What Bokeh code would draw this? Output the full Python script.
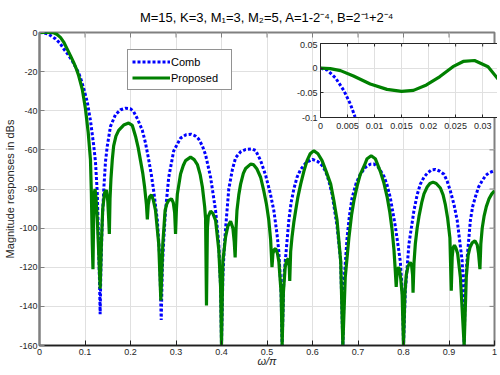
import math
from bokeh.plotting import figure
from bokeh.models import Range1d, FixedTicker, Legend, LegendItem
from bokeh.layouts import column
from bokeh.embed import file_html
from bokeh.resources import INLINE

# ---------------- data ----------------
title_text = "M=15, K=3, M\u2081=3, M\u2082=5, A=1-2\u207b\u2074, B=2\u207b\u00b9+2\u207b\u2074"
series_names = ["Comb", "Proposed"]
x_label = "\u03c9/\u03c0"
y_label = "Magnitude responses in dBs"

comb_x = [0, 0.01, 0.02, 0.035, 0.045, 0.053, 0.062, 0.072, 0.08, 0.086, 0.092, 0.097,
          0.105, 0.112, 0.119, 0.123, 0.127, 0.129, 0.132, 0.1333, 0.135, 0.138, 0.1413,
          0.145, 0.149, 0.156, 0.167, 0.178, 0.189, 0.2, 0.207, 0.216, 0.226, 0.233, 0.24,
          0.246, 0.251, 0.259, 0.264, 0.2675, 0.27, 0.273, 0.277, 0.284, 0.295, 0.31, 0.322,
          0.333, 0.342, 0.35, 0.358, 0.365, 0.376, 0.387, 0.394, 0.398, 0.4, 0.403, 0.406,
          0.409, 0.416, 0.424, 0.431, 0.442, 0.453, 0.467, 0.475, 0.486, 0.497, 0.507, 0.515,
          0.522, 0.526, 0.531, 0.5333, 0.537, 0.542, 0.548, 0.553, 0.559, 0.566, 0.574, 0.586,
          0.6, 0.612, 0.621, 0.629, 0.636, 0.643, 0.654, 0.662, 0.6667, 0.67, 0.676, 0.681,
          0.687, 0.696, 0.705, 0.716, 0.727, 0.735, 0.745, 0.757, 0.764, 0.771, 0.782, 0.793,
          0.798, 0.8, 0.804, 0.808, 0.812, 0.823, 0.83, 0.837, 0.845, 0.852, 0.861, 0.87,
          0.879, 0.889, 0.896, 0.903, 0.911, 0.918, 0.929, 0.931, 0.9333, 0.936, 0.94, 0.947,
          0.952, 0.958, 0.965, 0.973, 0.981, 0.988, 1.0]
comb_y = [0, -0.2, -0.9, -3.2, -5.5, -8.3, -11, -14.5, -18, -20.6, -24.5, -28.5,
          -35.5, -45, -57.5, -66, -82, -100, -128, -144, -120, -96, -80,
          -66, -58, -48, -42, -39.5, -38.7, -39, -40.5, -44.5, -50, -56.5, -65,
          -73, -81, -96, -114, -147, -120, -106, -91, -74, -60.5, -54, -52.3,
          -52, -52.8, -54.5, -58, -62.5, -74, -91, -108, -130, -160, -125, -110,
          -100, -80, -70, -64, -61, -59.8, -59.5, -60.3, -65.5, -73, -82, -91,
          -103, -112, -133, -160, -125, -112, -96, -87, -80, -74, -70, -66.5,
          -64.8, -66, -68, -71, -76, -82.5, -99, -117, -160, -125, -105, -94,
          -84.5, -77, -72.5, -69, -67.3, -67.2, -69, -73.5, -78, -84.5, -99, -117,
          -135, -160, -132, -120, -108, -91, -83, -77.5, -74, -72, -70.3, -70,
          -70.8, -72.5, -76, -81, -88, -96, -117, -128, -160, -128, -115, -96,
          -89, -84, -79, -75.7, -73, -71.7, -70.6]

prop_x = [0, 0.015, 0.031, 0.038, 0.046, 0.054, 0.061, 0.068, 0.075, 0.081, 0.086, 0.094,
          0.101, 0.107, 0.112, 0.114, 0.116, 0.1175, 0.119, 0.1205, 0.122, 0.124, 0.127,
          0.13, 0.1333, 0.136, 0.139, 0.143, 0.147, 0.15, 0.152, 0.1535, 0.155, 0.157, 0.16,
          0.163, 0.168, 0.174, 0.185, 0.196, 0.204, 0.211, 0.217, 0.222, 0.227, 0.231, 0.235,
          0.237, 0.239, 0.242, 0.246, 0.25, 0.255, 0.262, 0.2667, 0.271, 0.276, 0.28, 0.284,
          0.29, 0.294, 0.297, 0.299, 0.301, 0.303, 0.31, 0.316, 0.321, 0.332, 0.34, 0.347,
          0.353, 0.358, 0.363, 0.365, 0.367, 0.369, 0.371, 0.376, 0.381, 0.387, 0.394, 0.398,
          0.4, 0.403, 0.409, 0.414, 0.42, 0.425, 0.428, 0.43, 0.432, 0.434, 0.438, 0.442,
          0.448, 0.453, 0.464, 0.47, 0.478, 0.486, 0.493, 0.499, 0.504, 0.508, 0.511, 0.513,
          0.516, 0.519, 0.523, 0.526, 0.531, 0.5333, 0.536, 0.54, 0.543, 0.547, 0.549, 0.55,
          0.552, 0.555, 0.559, 0.563, 0.568, 0.574, 0.581, 0.588, 0.595, 0.603, 0.612, 0.621,
          0.63, 0.64, 0.647, 0.654, 0.662, 0.6667, 0.672, 0.68, 0.686, 0.691, 0.698, 0.705,
          0.714, 0.72, 0.729, 0.738, 0.749, 0.757, 0.764, 0.77, 0.775, 0.779, 0.782, 0.784,
          0.786, 0.789, 0.791, 0.794, 0.797, 0.8, 0.803, 0.806, 0.81, 0.815, 0.818, 0.82,
          0.821, 0.823, 0.826, 0.83, 0.834, 0.84, 0.845, 0.852, 0.858, 0.865, 0.872, 0.881,
          0.887, 0.892, 0.897, 0.902, 0.905, 0.907, 0.909, 0.912, 0.915, 0.919, 0.925, 0.9333,
          0.938, 0.942, 0.946, 0.951, 0.957, 0.962, 0.965, 0.968, 0.97, 0.973, 0.977, 0.982,
          0.988, 0.994, 1.0]
prop_y = [0, 0, -0.1, -0.9, -2.5, -5.2, -8.5, -11.8, -15.3, -18.6, -22, -29,
          -39, -51, -65, -82, -108, -121, -95, -82, -80, -84, -95,
          -112, -131, -108, -90, -82, -80.5, -86, -95, -103, -85, -75, -65,
          -58, -53, -50, -47.3, -46.3, -47.5, -53, -59, -65.5, -72, -79, -88,
          -95.5, -88, -84, -83, -85.5, -91, -108, -137, -108, -91, -87.5, -85.8,
          -85, -87, -92, -103, -90, -82.5, -72.3, -68, -65.5, -63.7, -65, -67.5,
          -72.5, -79, -89, -95, -139.5, -100, -94, -91.3, -92.5, -96, -111, -130,
          -160, -117, -104.5, -99, -96.5, -100, -107, -115, -100, -91, -83, -77.5,
          -72, -69.5, -67.3, -67.5, -69.8, -74, -81, -88, -96, -106, -120, -113,
          -111, -110.5, -113, -117, -133, -160, -133, -120, -116.5, -115.7, -120, -127,
          -112, -104.5, -97, -91, -84, -77.5, -71, -65.5, -62, -60.4, -62, -65.5,
          -71, -77.5, -86, -96, -117, -160, -125, -105, -93, -86, -78.5, -72.5,
          -68, -64.5, -63, -64.5, -71, -77, -84, -92, -101, -111, -122, -130,
          -122, -120, -121, -126, -134, -160, -134, -124, -119.5, -117.5, -119.5, -124,
          -133, -118, -108, -100, -94, -87, -82.5, -79, -77.2, -76.5, -77.2, -79.5,
          -83, -88, -95, -105, -132, -115, -110, -108.7, -110, -113, -125, -160,
          -125, -114, -110, -107.5, -106.5, -108.5, -113, -121, -108, -100, -94, -89,
          -85, -82.5, -81]

inset_comb_x = [0, 0.0012, 0.0028, 0.0043, 0.0055, 0.0064]
inset_comb_y = [0, -0.0035, -0.02, -0.045, -0.072, -0.099]
inset_prop_x = [0, 0.0018, 0.0037, 0.0061, 0.0092, 0.0123, 0.015, 0.0172, 0.0196,
                0.0221, 0.0245, 0.0264, 0.0285, 0.031, 0.0333]
inset_prop_y = [0, -0.001, -0.005, -0.016, -0.032, -0.043, -0.047, -0.045, -0.034,
                -0.017, 0.003, 0.0136, 0.0156, 0.003, -0.028]

x_ticks = [0, 0.1, 0.2, 0.3, 0.4, 0.5, 0.6, 0.7, 0.8, 0.9, 1]
x_tick_labels = ["0", "0.1", "0.2", "0.3", "0.4", "0.5", "0.6", "0.7", "0.8", "0.9", "1"]
y_ticks = [-160, -140, -120, -100, -80, -60, -40, -20, 0]
y_tick_labels = ["-160", "-140", "-120", "-100", "-80", "-60", "-40", "-20", "0"]
inset_x_ticks = [0, 0.005, 0.01, 0.015, 0.02, 0.025, 0.03]
inset_x_tick_labels = ["0", "0.005", "0.01", "0.015", "0.02", "0.025", "0.03"]
inset_y_ticks = [-0.1, -0.05, 0, 0.05]
inset_y_tick_labels = ["-0.1", "-0.05", "0", "0.05"]

# ---------------- style ----------------
FONT = "Liberation Sans"
TXT = "#262626"
GRID = "#e0e0e0"
BLUE = "#0000ff"
GREEN = "#008000"

MAIN_SHIFT = -2                               # main figure nudged up
MAIN_H = MAIN_SHIFT + 34 + 313 + 26           # flow bottom of the main figure


def style_axis(ax, ticks, labels, size, standoff, color, width, tick_len):
    ax.ticker = FixedTicker(ticks=ticks)
    ax.major_label_overrides = dict(zip(ticks, labels))
    ax.major_label_text_font = FONT
    ax.major_label_text_font_size = size
    ax.major_label_text_color = TXT
    ax.major_label_standoff = standoff
    ax.major_tick_in = tick_len
    ax.major_tick_out = 0
    ax.minor_tick_in = 0
    ax.minor_tick_out = 0
    ax.axis_line_color = color
    ax.axis_line_width = width
    ax.major_tick_line_color = color
    ax.major_tick_line_width = 1


def mirror_ticks(fig, xt, yt, color, tick_len):
    # tick marks on the top and right edges (the outer half of each dash is clipped)
    top = fig.y_range.end
    right = fig.x_range.end
    fig.scatter(xt, [top] * len(xt), marker="dash", size=2 * tick_len, angle=math.pi / 2,
                line_color=color, line_width=1)
    fig.scatter([right] * len(yt), yt, marker="dash", size=2 * tick_len,
                line_color=color, line_width=1)


# ---------------- main figure ----------------
p = figure(frame_width=455, frame_height=313, output_backend="svg", toolbar_location=None,
           x_range=Range1d(0, 1), y_range=Range1d(-160, 0),
           min_border_left=39, min_border_right=5, min_border_top=34, min_border_bottom=26,
           margin=(MAIN_SHIFT, 0, 0, 0), title=title_text)
p.title.text_font = FONT
p.title.text_font_size = "13px"
p.title.text_font_style = "normal"
p.title.text_color = "#000000"
p.title.align = "center"
p.title.standoff = 16
p.outline_line_color = "#808080"
p.outline_line_width = 2
p.background_fill_color = "white"
p.border_fill_color = "white"

style_axis(p.xaxis[0], x_ticks, x_tick_labels, "9px", 3, "#202020", 1.5, 5)
style_axis(p.yaxis[0], y_ticks, y_tick_labels, "9px", 2, "#808080", 2, 5)
p.xaxis.axis_label = x_label
p.xaxis.axis_label_text_font = FONT
p.xaxis.axis_label_text_font_size = "11px"
p.xaxis.axis_label_text_font_style = "italic"
p.xaxis.axis_label_text_color = TXT
p.xaxis.axis_label_standoff = -3
p.yaxis.axis_label = y_label
p.yaxis.axis_label_text_font = FONT
p.yaxis.axis_label_text_font_size = "11px"
p.yaxis.axis_label_text_font_style = "normal"
p.yaxis.axis_label_text_color = TXT
p.yaxis.axis_label_standoff = 0

p.xgrid.ticker = FixedTicker(ticks=x_ticks)
p.ygrid.ticker = FixedTicker(ticks=y_ticks)
p.grid.grid_line_color = GRID
p.grid.grid_line_width = 1

mirror_ticks(p, x_ticks, y_ticks, "#808080", 5)

r_comb = p.line(comb_x, comb_y, line_color=BLUE, line_width=3, line_dash="3 2")
r_prop = p.line(prop_x, prop_y, line_color=GREEN, line_width=3.2)

legend = Legend(items=[LegendItem(label=series_names[0], renderers=[r_comb]),
                       LegendItem(label=series_names[1], renderers=[r_prop])],
                location=(88, 255), margin=0, padding=4, spacing=1,
                glyph_width=38, glyph_height=15, label_height=15, label_width=56,
                label_standoff=1, label_text_font=FONT, label_text_font_size="11px",
                label_text_color="#000000", border_line_color="#262626",
                border_line_width=1, background_fill_color="white",
                background_fill_alpha=1)
p.add_layout(legend)

# ---------------- inset figure (overlaid on the main one) ----------------
INSET_TOP = 41
INSET_H = 2 + 74 + 18
q = figure(frame_width=180, frame_height=74, output_backend="svg", toolbar_location=None,
           x_range=Range1d(0, 0.0333), y_range=Range1d(-0.1, 0.05),
           min_border_left=32, min_border_right=4, min_border_top=2, min_border_bottom=18,
           margin=(INSET_TOP - MAIN_H, 0, MAIN_H - INSET_TOP - INSET_H, 281))
q.border_fill_alpha = 0
q.background_fill_color = "white"
q.outline_line_color = "#262626"
q.outline_line_width = 1
style_axis(q.xaxis[0], inset_x_ticks, inset_x_tick_labels, "9px", 5, "#262626", 1, 3)
style_axis(q.yaxis[0], inset_y_ticks, inset_y_tick_labels, "9px", 3, "#262626", 1, 3)
q.xgrid.ticker = FixedTicker(ticks=inset_x_ticks)
q.ygrid.ticker = FixedTicker(ticks=inset_y_ticks)
q.grid.grid_line_color = GRID
q.grid.grid_line_width = 1

mirror_ticks(q, inset_x_ticks, inset_y_ticks, "#262626", 3)

q.line(inset_comb_x, inset_comb_y, line_color=BLUE, line_width=3, line_dash="3 2")
q.line(inset_prop_x, inset_prop_y, line_color=GREEN, line_width=3.2)

layout = column(p, q)
open("out.html", "w").write(file_html(layout, INLINE))
